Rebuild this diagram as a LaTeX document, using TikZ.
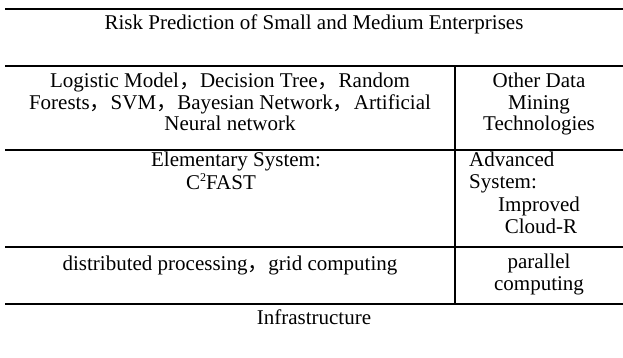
\documentclass[tikz,border=0pt]{standalone}
\usepackage{fontspec}
\setmainfont{Liberation Serif}
\newfontfamily\cjkfont{Noto Sans CJK SC}
\newcommand{\fwc}{{\cjkfont ，}}
\newcommand{\suptwo}{\raisebox{0.4em}{\fontsize{12}{12}\selectfont 2}}
\begin{document}
\begin{tikzpicture}[x=1pt,y=-1pt,
  hline/.style={line width=2.2pt},
  vline/.style={line width=1.8pt},
  txt/.style={inner sep=0pt,anchor=base,font=\fontsize{21}{22}\selectfont},
  txtl/.style={txt,anchor=base west}]
\useasboundingbox (0,0) rectangle (623,358);
% rules
\coordinate (a1) at (5,9);   \coordinate (b1) at (623,9);
\coordinate (a2) at (5,66);  \coordinate (b2) at (623,66);
\coordinate (a3) at (5,150); \coordinate (b3) at (623,150);
\coordinate (a4) at (5,247); \coordinate (b4) at (623,247);
\coordinate (a5) at (5,304); \coordinate (b5) at (623,304);
\coordinate (vt) at (455,66); \coordinate (vb) at (455,304);
\foreach \i in {1,...,5} {\draw[hline] (a\i) -- (b\i);}
\draw[vline] (vt) -- (vb);
% title
\node[txt] (title) at (314,30) {Risk Prediction of Small and Medium Enterprises};
% row 1
\node[txt] (m1) at (230,88) {Logistic Model\fwc Decision Tree\fwc Random};
\node[txt] (m2) at (230,109.5) {Forests\fwc SVM\fwc Bayesian Network\fwc Artificial};
\node[txt] (m3) at (230,131) {Neural network};
\node[txt] (o1) at (539,88) {Other Data};
\node[txt] (o2) at (539,109.5) {Mining};
\node[txt] (o3) at (539,131) {Technologies};
% row 2
\node[txt] (e1) at (236,167) {Elementary System:};
\node[txt] (e2) at (221,189.5) {C\suptwo FAST};
\node[txtl] (s1) at (469,167) {Advanced};
\node[txtl] (s2) at (469,189) {System:};
\node[txt] (s3) at (539,211) {Improved};
\node[txt] (s4) at (541,233) {Cloud-R};
% row 3
\node[txt] (d1) at (230,270) {distributed processing\fwc grid computing};
\node[txt] (p1) at (539,268) {parallel};
\node[txt] (p2) at (539,290) {computing};
% bottom
\node[txt] (infra) at (314,324) {Infrastructure};
\end{tikzpicture}
\end{document}
